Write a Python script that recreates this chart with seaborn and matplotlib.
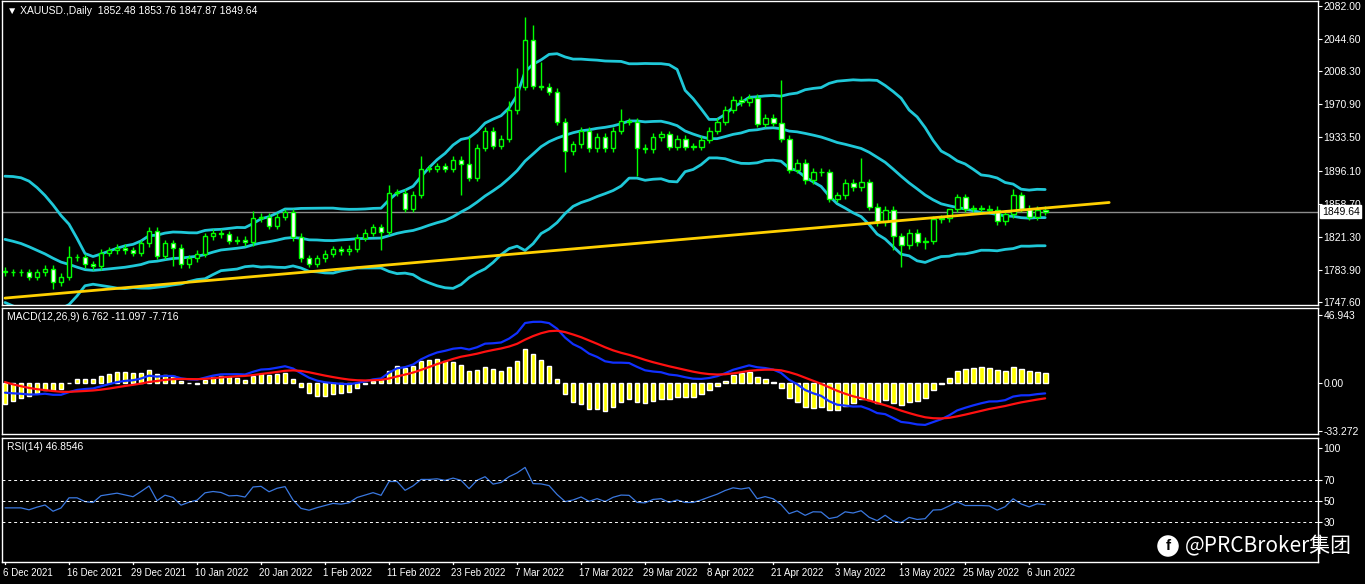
import matplotlib.pyplot as plt
import numpy as np
import pandas as pd
import seaborn as sns

# warm-up closes (Oct-early Dec 2021) so bands/MACD/RSI exist at the left edge
history = [1757, 1760, 1767, 1763, 1796, 1798, 1768, 1782, 1783, 1793, 1798, 1783,
           1797, 1783, 1792, 1793, 1789, 1769, 1792, 1818,
           1824, 1832, 1849, 1863, 1865, 1867, 1863, 1851, 1860, 1846, 1805, 1788,
           1788, 1792, 1785, 1774, 1782, 1769, 1783]

# visible daily closes, 6 Dec 2021 .. 8 Jun 2022
closes = [1781, 1781, 1781, 1776, 1781, 1785, 1770, 1776, 1798, 1798,
          1790, 1788, 1803, 1806, 1809, 1806, 1803, 1814, 1828, 1800,
          1814, 1809, 1790, 1797, 1802, 1822, 1826, 1824, 1817, 1818,
          1815, 1842, 1844, 1834, 1844, 1849, 1821, 1797, 1791, 1797,
          1802, 1807, 1805, 1808, 1820, 1826, 1832, 1827, 1871, 1871,
          1853, 1869, 1898, 1898, 1901, 1898, 1908, 1904, 1888, 1922,
          1941, 1924, 1932, 1964, 1991, 2044, 1992, 1991, 1985, 1951,
          1918, 1926, 1941, 1921, 1934, 1921, 1941, 1952, 1951, 1922,
          1920, 1934, 1937, 1923, 1932, 1923, 1923, 1931, 1941, 1951,
          1965, 1976, 1973, 1978, 1949, 1956, 1950, 1932, 1897, 1905,
          1885, 1895, 1894, 1864, 1868, 1882, 1877, 1883, 1855, 1838,
          1852, 1822, 1812, 1826, 1815, 1817, 1841, 1842, 1853, 1866,
          1853, 1853, 1853, 1852, 1839, 1847, 1868, 1853, 1844, 1852,
          1849.64]
# notable wick extremes (bar index -> price)
spike_highs = {8: 1811, 31: 1850, 36: 1853, 48: 1880, 52: 1912, 58: 1934, 63: 1975,
               64: 2012, 65: 2070, 66: 2060, 67: 2019, 77: 1966, 97: 1998, 107: 1910,
               118: 1845, 120: 1870, 126: 1875}
spike_lows = {6: 1762, 21: 1788, 47: 1806, 57: 1868, 70: 1895, 79: 1890, 111: 1806,
              112: 1787, 115: 1808}

trend_x = [0, 138]
trend_y = [1752, 1860]

date_labels = ["6 Dec 2021", "16 Dec 2021", "29 Dec 2021", "10 Jan 2022", "20 Jan 2022",
               "1 Feb 2022", "11 Feb 2022", "23 Feb 2022", "7 Mar 2022", "17 Mar 2022",
               "29 Mar 2022", "8 Apr 2022", "21 Apr 2022", "3 May 2022", "13 May 2022",
               "25 May 2022", "6 Jun 2022"]
price_ticks = [2082.00, 2044.60, 2008.30, 1970.90, 1933.50, 1896.10, 1858.70,
               1821.30, 1783.90, 1747.60]

# ---- indicators
full = pd.Series(history + closes, dtype=float)
n_hist = len(history)
mid = full.rolling(20).mean()
sd = full.rolling(20).std(ddof=0)
upper, lower = mid + 2 * sd, mid - 2 * sd
macd = full.ewm(span=12, adjust=False).mean() - full.ewm(span=26, adjust=False).mean()
signal = macd.ewm(span=9, adjust=False).mean()
hist = 2 * (macd - signal)
delta = full.diff()
gain = delta.clip(lower=0).ewm(alpha=1 / 14, adjust=False).mean()
loss = (-delta.clip(upper=0)).ewm(alpha=1 / 14, adjust=False).mean()
rsi = 100 - 100 / (1 + gain / loss)

vis = slice(n_hist, None)
idx = np.arange(len(closes))
df = pd.DataFrame({"bar": idx, "close": closes,
                   "upper": upper[vis].values, "mid": mid[vis].values, "lower": lower[vis].values,
                   "macd": macd[vis].values, "signal": signal[vis].values,
                   "hist": hist[vis].values, "rsi": rsi[vis].values})
opens = [history[-1]] + closes[:-1]

sns.set_style("dark", {"axes.facecolor": "black", "figure.facecolor": "black"})
plt.rcParams["font.family"] = ["Liberation Sans", "DejaVu Sans"]

W, H = 1365, 584
fig = plt.figure(figsize=(W / 100, H / 100), dpi=100)
left, width = 2 / W, 1316 / W
ax1 = fig.add_axes([left, 1 - 305 / H, width, 304 / H])
ax2 = fig.add_axes([left, 1 - 434 / H, width, 126 / H])
ax3 = fig.add_axes([left, 1 - 562 / H, width, 124 / H])
xlim = (-0.375, 164.1)

green = "#00ff00"
cyan = "#1fc8d8"
for ax in (ax1, ax2, ax3):
    ax.set_facecolor("black")
    ax.set_xlim(*xlim)
    ax.grid(False)
    for s in ax.spines.values():
        s.set_color("white")
        s.set_linewidth(1)
    ax.yaxis.tick_right()
    ax.tick_params(axis="y", colors="white", labelsize=7.5, length=3, pad=1, direction="out")
    ax.set_xticks([])

# ---- price panel
for i, (o, c) in enumerate(zip(opens, closes)):
    hi = spike_highs.get(i, max(o, c) + 4)
    lo = spike_lows.get(i, min(o, c) - 4)
    ax1.vlines(i, lo, hi, color=green, lw=1, zorder=3)
    bull = c >= o
    ax1.bar(i, max(abs(c - o), 0.6), bottom=min(o, c), width=0.6,
            color="black" if bull else "white", edgecolor=green, lw=1, zorder=4)
for col in ("upper", "mid", "lower"):
    sns.lineplot(data=df, x="bar", y=col, ax=ax1, color=cyan, lw=2, zorder=2)
ax1.plot(trend_x, trend_y, color="#ffd000", lw=2, zorder=5)
ax1.axhline(closes[-1], color="#8c8c8c", lw=1, zorder=1)
ax1.set_ylim(1744.2, 2087.6)
ax1.set_yticks(price_ticks)
ax1.set_yticklabels([f"{t:.2f}" for t in price_ticks])
ax1.text(1.003, closes[-1], f"{closes[-1]:.2f}", transform=ax1.get_yaxis_transform(),
         color="black", fontsize=7.5, va="center", ha="left", zorder=10,
         bbox=dict(boxstyle="square,pad=0.15", fc="white", ec="white"))
ax1.text(0.004, 0.985, "▼ XAUUSD.,Daily  1852.48 1853.76 1847.87 1849.64",
         transform=ax1.transAxes, color="white", fontsize=7.5, va="top")
ax1.set_xlabel("")
ax1.set_ylabel("")

# ---- MACD panel
ax2.bar(df["bar"], df["hist"], width=0.6, color="#ffff00", zorder=2)
sns.lineplot(data=df, x="bar", y="macd", ax=ax2, color="#1030ff", lw=1.6, zorder=3)
sns.lineplot(data=df, x="bar", y="signal", ax=ax2, color="#ff1010", lw=1.6, zorder=3)
ax2.set_ylim(-35.5, 51.5)
ax2.set_yticks([46.943, 0.0, -33.272])
ax2.set_yticklabels(["46.943", "0.00", "-33.272"])
ax2.text(0.004, 0.97, "MACD(12,26,9) 6.762 -11.097 -7.716", transform=ax2.transAxes,
         color="white", fontsize=7.5, va="top")
ax2.set_xlabel("")
ax2.set_ylabel("")

# ---- RSI panel
sns.lineplot(data=df, x="bar", y="rsi", ax=ax3, color="#3a78e0", lw=0.9)
for lvl in (70, 50, 30):
    ax3.axhline(lvl, color="white", lw=0.7, ls=(0, (3, 3)))
ax3.set_ylim(-7, 109)
ax3.set_yticks([100, 70, 50, 30])
ax3.text(0.004, 0.97, "RSI(14) 46.8546", transform=ax3.transAxes,
         color="white", fontsize=7.5, va="top")
ax3.set_xlabel("")
ax3.set_ylabel("")

# date labels under the RSI panel
for k, lab in enumerate(date_labels):
    ax3.text(8 * k - 0.3, -0.05, lab, transform=ax3.get_xaxis_transform(),
             color="white", fontsize=7, va="top", ha="left")
    ax3.plot([8 * k, 8 * k], [0, -0.02], transform=ax3.get_xaxis_transform(),
             color="white", lw=1, clip_on=False)

# watermark
fig.text(1168 / W, 1 - 546 / H, "f", color="black", fontsize=11, weight="bold",
         ha="center", va="center",
         bbox=dict(boxstyle="circle,pad=0.2", fc="white", ec="white"))
fig.text(1185 / W, 1 - 546 / H, "@PRCBroker集团", color="white", fontsize=15,
         va="center", ha="left", family=["Noto Sans CJK SC", "DejaVu Sans"])

fig.savefig("out.png", dpi=100, facecolor="black")
